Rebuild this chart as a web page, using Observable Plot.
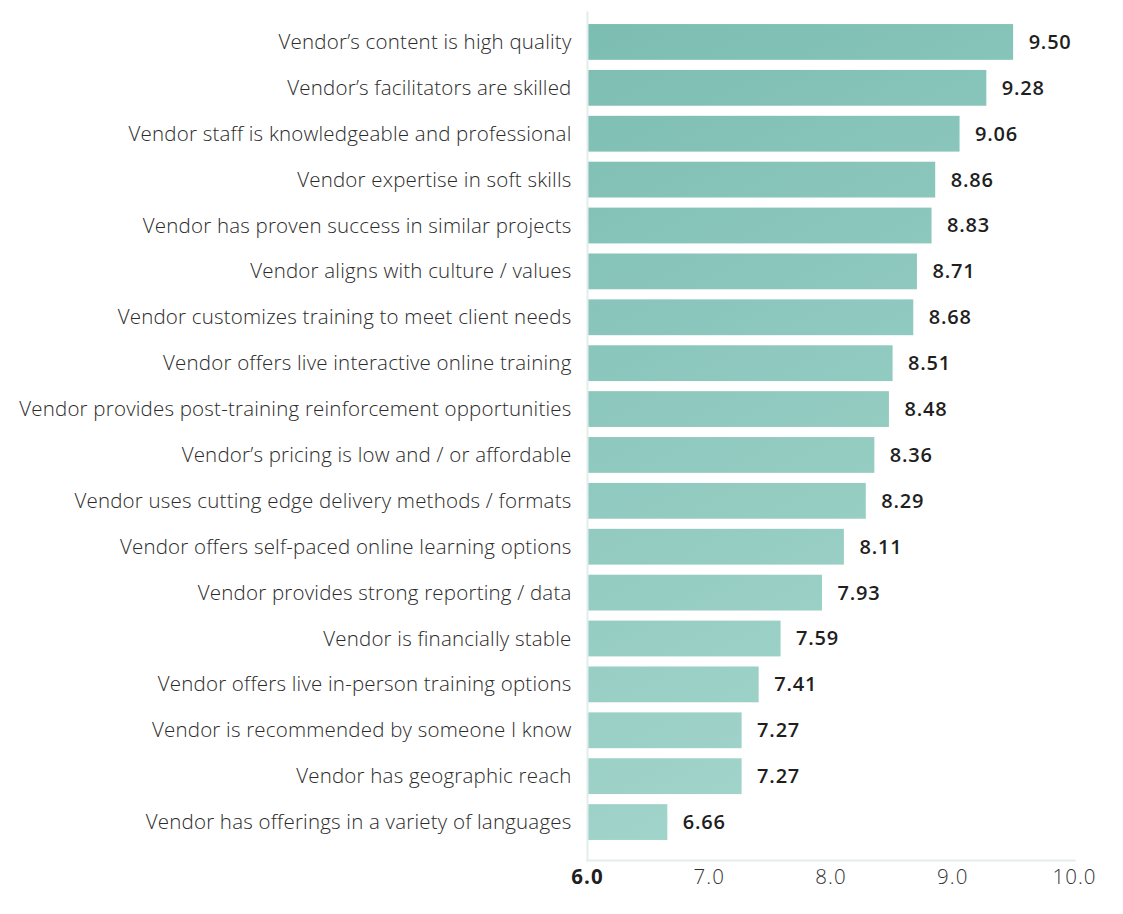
<!DOCTYPE html>
<html>
<head>
<meta charset="utf-8">
<script src="https://cdn.jsdelivr.net/npm/d3@7"></script>
<script src="https://cdn.jsdelivr.net/npm/@observablehq/plot@0.6"></script>
<style>
  html, body { margin: 0; padding: 0; background: #fff; }
  #chart svg { display: block; }
  #chart g[aria-label="y-axis tick label"] text { letter-spacing: 0.2px; }
  #chart g[aria-label="x-axis tick label"] text { letter-spacing: 1px; }
  #chart g[aria-label="text"] text { letter-spacing: 0.8px; }
</style>
</head>
<body>
<div id="chart"></div>
<script>
const categories = [
  "Vendor’s content is high quality",
  "Vendor’s facilitators are skilled",
  "Vendor staff is knowledgeable and professional",
  "Vendor expertise in soft skills",
  "Vendor has proven success in similar projects",
  "Vendor aligns with culture / values",
  "Vendor customizes training to meet client needs",
  "Vendor offers live interactive online training",
  "Vendor provides post-training reinforcement opportunities",
  "Vendor’s pricing is low and / or affordable",
  "Vendor uses cutting edge delivery methods / formats",
  "Vendor offers self-paced online learning options",
  "Vendor provides strong reporting / data",
  "Vendor is financially stable",
  "Vendor offers live in-person training options",
  "Vendor is recommended by someone I know",
  "Vendor has geographic reach",
  "Vendor has offerings in a variety of languages"
];
const scores = [9.50, 9.28, 9.06, 8.86, 8.83, 8.71, 8.68, 8.51, 8.48, 8.36, 8.29, 8.11, 7.93, 7.59, 7.41, 7.27, 7.27, 6.66];
const xTicks = [6, 7, 8, 9, 10];

const data = categories.map((c, i) => ({category: c, score: scores[i]}));

const chart = Plot.plot({
  width: 1123,
  height: 914,
  marginLeft: 587,
  marginRight: 49,
  marginTop: 12,
  marginBottom: 54,
  style: {fontFamily: "'Open Sans', Lato, sans-serif", background: "#fff"},
  x: {domain: [6, 10], ticks: xTicks, tickFormat: d => d.toFixed(1)},
  y: {domain: categories, range: [19, 845], paddingInner: 0.22, paddingOuter: 0.11, round: false},
  marks: [
    Plot.barX(data, {x1: 6, x2: "score", y: "category", fill: "url(#barGrad)"}),
    Plot.text(data, {x: "score", y: "category", text: d => d.score.toFixed(2), textAnchor: "start", dx: 15, fontSize: 20, fontWeight: 600, fill: "#1f1f1f"}),
    Plot.frame({anchor: "left", stroke: "#e2eeec", strokeWidth: 2}),
    Plot.frame({anchor: "bottom", stroke: "#e2eeec", strokeWidth: 2}),
    Plot.axisY({tickSize: 0, tickPadding: 16, fontSize: 20.5, fontWeight: 300, label: null, fill: "#2b2b2b"}),
    Plot.axisX({ticks: xTicks, tickFormat: d => d.toFixed(1), tickSize: 0, tickPadding: 9, fontSize: 20.5, fontWeight: 300, label: null, fill: "#333"})
  ]
});

// gradient definition for bars
const ns = "http://www.w3.org/2000/svg";
const defs = document.createElementNS(ns, "defs");
const grad = document.createElementNS(ns, "linearGradient");
grad.setAttribute("id", "barGrad");
grad.setAttribute("gradientUnits", "userSpaceOnUse");
grad.setAttribute("x1", "587"); grad.setAttribute("y1", "24");
grad.setAttribute("x2", "1000"); grad.setAttribute("y2", "840");
[["0%", "#7cbdb2"], ["100%", "#a8d8cf"]].forEach(([o, c]) => {
  const s = document.createElementNS(ns, "stop");
  s.setAttribute("offset", o); s.setAttribute("stop-color", c);
  grad.appendChild(s);
});
defs.appendChild(grad);
chart.insertBefore(defs, chart.firstChild);

// bold first tick label (6.0)
const xAxisTexts = chart.querySelectorAll("g[aria-label='x-axis tick label'] text");
if (xAxisTexts.length) { xAxisTexts[0].setAttribute("font-weight", "700"); xAxisTexts[0].setAttribute("fill", "#1f1f1f"); }

document.getElementById("chart").appendChild(chart);
</script>
</body>
</html>
